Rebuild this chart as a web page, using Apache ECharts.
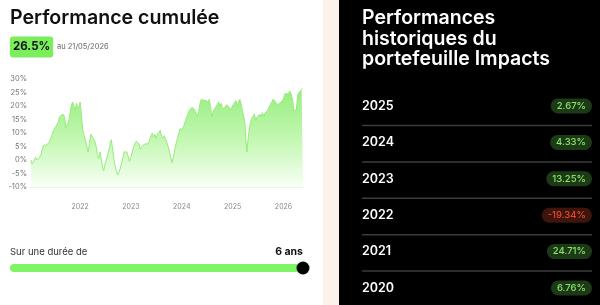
<!DOCTYPE html>
<html>
<head>
<meta charset="utf-8">
<script src="https://cdn.jsdelivr.net/npm/echarts@6/dist/echarts.min.js"></script>
<style>
html,body{margin:0;padding:0;background:#fff;}
#c{width:600px;height:305px;}
</style>
</head>
<body>
<div id="c"></div>
<script>
// ---- data ----
const dates = ['2021-01-13','2021-01-20','2021-01-27','2021-02-06','2021-02-15','2021-02-25','2021-03-06','2021-03-16','2021-03-26','2021-04-04','2021-04-14','2021-04-23','2021-05-03','2021-05-12','2021-05-22','2021-05-31','2021-06-12','2021-06-24','2021-07-06','2021-07-18','2021-07-28','2021-08-06','2021-08-18','2021-08-30','2021-09-11','2021-09-20','2021-09-30','2021-10-10','2021-10-19','2021-10-29','2021-11-07','2021-11-17','2021-11-26','2021-12-06','2021-12-15','2021-12-25','2022-01-01','2022-01-11','2022-01-20','2022-01-30','2022-02-08','2022-02-18','2022-02-27','2022-03-09','2022-03-18','2022-03-28','2022-04-06','2022-04-16','2022-04-26','2022-05-05','2022-05-15','2022-05-24','2022-06-03','2022-06-12','2022-06-19','2022-06-29','2022-07-08','2022-07-18','2022-07-28','2022-08-06','2022-08-13','2022-08-20','2022-08-30','2022-09-08','2022-09-18','2022-09-28','2022-10-07','2022-10-17','2022-10-26','2022-11-05','2022-11-14','2022-11-24','2022-12-03','2022-12-13','2022-12-22','2023-01-01','2023-01-11','2023-01-20','2023-01-30','2023-02-08','2023-02-18','2023-02-27','2023-03-09','2023-03-18','2023-03-28','2023-04-06','2023-04-16','2023-04-26','2023-05-05','2023-05-15','2023-05-24','2023-06-03','2023-06-12','2023-06-22','2023-07-01','2023-07-11','2023-07-20','2023-07-30','2023-08-08','2023-08-18','2023-08-28','2023-09-06','2023-09-16','2023-09-25','2023-10-05','2023-10-14','2023-10-24','2023-11-02','2023-11-12','2023-11-21','2023-12-01','2023-12-11','2023-12-20','2023-12-30','2024-01-08','2024-01-18','2024-01-27','2024-02-06','2024-02-15','2024-02-25','2024-03-05','2024-03-15','2024-03-24','2024-04-03','2024-04-13','2024-04-22','2024-05-02','2024-05-11','2024-05-21','2024-05-30','2024-06-09','2024-06-18','2024-06-28','2024-07-07','2024-07-17','2024-07-27','2024-08-05','2024-08-15','2024-08-24','2024-09-03','2024-09-12','2024-09-22','2024-10-01','2024-10-11','2024-10-20','2024-10-30','2024-11-08','2024-11-18','2024-11-28','2024-12-07','2024-12-17','2024-12-26','2025-01-05','2025-01-14','2025-01-24','2025-02-02','2025-02-12','2025-02-21','2025-03-03','2025-03-13','2025-03-22','2025-03-29','2025-04-05','2025-04-13','2025-04-20','2025-04-29','2025-05-09','2025-05-18','2025-05-28','2025-06-06','2025-06-16','2025-06-26','2025-07-05','2025-07-15','2025-07-24','2025-08-03','2025-08-12','2025-08-22','2025-08-31','2025-09-10','2025-09-19','2025-09-29','2025-10-08','2025-10-18','2025-10-28','2025-11-06','2025-11-16','2025-11-25','2025-12-05','2025-12-14','2025-12-24','2026-01-02','2026-01-12','2026-01-21','2026-01-31','2026-02-10','2026-02-19','2026-03-01','2026-03-08','2026-03-15','2026-03-24','2026-04-03','2026-04-13','2026-04-22','2026-05-02','2026-05-11','2026-05-18','2026-05-21'];
const perfValues = [0,-1.5,-2,0,1,0,0.5,1,2,4,5.5,6,5.5,5,6.5,7.5,9,11,12,12.5,14,16,16.5,17,16,12,11.5,14,17,20,21.5,20,18.5,21,19,20,21.5,16,11,9,7.5,5,3,6,9.5,9,8,7,5,2,0.5,3,0,-3,-4,-1.5,0,2,4,6.5,7.5,5,1,-2,-4,-5.5,-4.5,-3,-1,1,3,3.5,3,2.5,-0.5,1,3,5,6,7,6.5,6,4,4,5.5,5.5,6,6.5,6,7.5,8,10,8.5,9.5,8,9.5,10,11,9,8,9,8,8.5,5,3,1,-1,1,4,6,8,10,11.5,12,11.5,13,14.5,16,17,18.5,19,19.5,19,18.5,19,16,18,21,22.5,22,22,21.5,22,21,22.5,19,16,18,19,18.5,20.5,21.5,20,21,19,18.5,19.5,20.5,21,19.5,18.5,19.5,20.5,21,22,20,21.5,22.5,20.5,18,16,14,8,3,7,11,14,15.5,16,17,14.5,16,15.5,17,16,17.5,16,17.5,17,18.5,18,20.5,21,22.5,23,21.5,20.5,20,21,21.5,22,23,24.5,25,24.5,24,25.5,26,22,18.5,18,18.5,24,25,24.5,26,26.5,26.5];
const yTicks = [-10, -5, 0, 5, 10, 15, 20, 25, 30];
const cumulativePerf = '26.5%';
const asOfDate = 'au 21/05/2026';
const durationLabel = 'Sur une durée de';
const durationValue = '6 ans';
const leftTitle = 'Performance cumulée';
const rightTitle = 'Performances\nhistoriques du\nportefeuille Impacts';
const years = ['2025', '2024', '2023', '2022', '2021', '2020'];
const annualPerf = [2.67, 4.33, 13.25, -19.34, 24.71, 6.76];

// ---- chart ----
const chart = echarts.init(document.getElementById('c'), null, {renderer: 'canvas'});
const FONT = 'Inter, "Noto Sans", sans-serif';

const graphics = [
  {type: 'rect', shape: {x: 323, y: 0, width: 16, height: 305}, style: {fill: '#fbf2ea'}, silent: true, z: -10},
  {type: 'rect', shape: {x: 339, y: 0, width: 261, height: 305}, style: {fill: '#000'}, silent: true, z: -10},
  {type: 'text', x: 10, y: 18, style: {text: leftTitle, fill: '#111', font: '600 19.6px ' + FONT, verticalAlign: 'middle'}},
  {type: 'text', x: 10, y: 47, style: {text: cumulativePerf, fill: '#111', font: '700 11.5px ' + FONT, verticalAlign: 'middle',
      backgroundColor: '#7bee5c', padding: [5, 3, 4, 3], borderRadius: 3}},
  {type: 'text', x: 57, y: 47, style: {text: asOfDate, fill: '#666', font: '400 7.5px ' + FONT, verticalAlign: 'middle'}},
  {type: 'text', x: 10, y: 252, style: {text: durationLabel, fill: '#333', font: '400 9.5px ' + FONT, verticalAlign: 'middle'}},
  {type: 'text', x: 303, y: 252, style: {text: durationValue, fill: '#111', font: '700 10.5px ' + FONT, verticalAlign: 'middle', align: 'right'}},
  {type: 'rect', shape: {x: 10, y: 264, width: 293, height: 8, r: 4}, style: {fill: '#7ef564'}},
  {type: 'circle', shape: {cx: 303, cy: 268, r: 6.5}, style: {fill: '#000'}},
  {type: 'text', x: 362, y: 8, style: {text: rightTitle, fill: '#fff', font: '600 19.5px ' + FONT, lineHeight: 20.5, verticalAlign: 'top'}}
];

const rowY0 = 106, rowStep = 36.4;
years.forEach((yr, i) => {
  const cy = rowY0 + i * rowStep;
  const v = annualPerf[i];
  const pos = v >= 0;
  graphics.push({type: 'text', x: 362, y: cy, style: {text: yr, fill: '#fff', font: '600 12.5px ' + FONT, verticalAlign: 'middle'}});
  graphics.push({type: 'text', x: 592, y: cy, style: {
    text: v.toFixed(2) + '%', fill: pos ? '#8be46a' : '#e5492f', font: '500 9.5px ' + FONT,
    align: 'right', verticalAlign: 'middle',
    backgroundColor: pos ? '#1d3a17' : '#3d150c', padding: [3, 6, 2, 6], borderRadius: 8}});
  if (i < years.length - 1) {
    const ly = cy + 19.5;
    graphics.push({type: 'line', shape: {x1: 362, y1: ly, x2: 592, y2: ly}, style: {stroke: '#3c3c3c', lineWidth: 1.5}});
  }
});

chart.setOption({
  animation: false,
  backgroundColor: '#fff',
  textStyle: {fontFamily: FONT},
  grid: {left: 31, right: 297, top: 79, height: 108},
  xAxis: {
    type: 'time',
    min: dates[0], max: dates[dates.length - 1],
    minInterval: 365 * 24 * 3600 * 1000,
    axisLine: {show: true, onZero: false, lineStyle: {color: '#efefef'}},
    axisTick: {show: false},
    splitLine: {show: false},
    axisLabel: {color: '#888', fontSize: 7, margin: 16, showMinLabel: false, showMaxLabel: false,
      formatter: function (val) { const d = new Date(val); return (d.getMonth() === 0 && d.getDate() === 1) ? String(d.getFullYear()) : ''; }}
  },
  yAxis: {
    type: 'value', min: yTicks[0], max: yTicks[yTicks.length - 1], interval: 5,
    axisLine: {show: false}, axisTick: {show: false}, splitLine: {show: false},
    axisLabel: {color: '#777', fontSize: 7.5, margin: 4, formatter: '{value}%'}
  },
  series: [{
    type: 'line',
    data: dates.map((d, i) => [d, perfValues[i]]),
    showSymbol: false,
    lineStyle: {color: '#96ec7c', width: 1},
    areaStyle: {
      origin: 'start',
      opacity: 1,
      color: new echarts.graphic.LinearGradient(0, 0, 0, 1, [
        {offset: 0, color: '#96ee7d'},
        {offset: 0.55, color: '#c6f8b6'},
        {offset: 1, color: '#f8fff5'}
      ])
    }
  }],
  graphic: graphics
});
</script>
</body>
</html>
